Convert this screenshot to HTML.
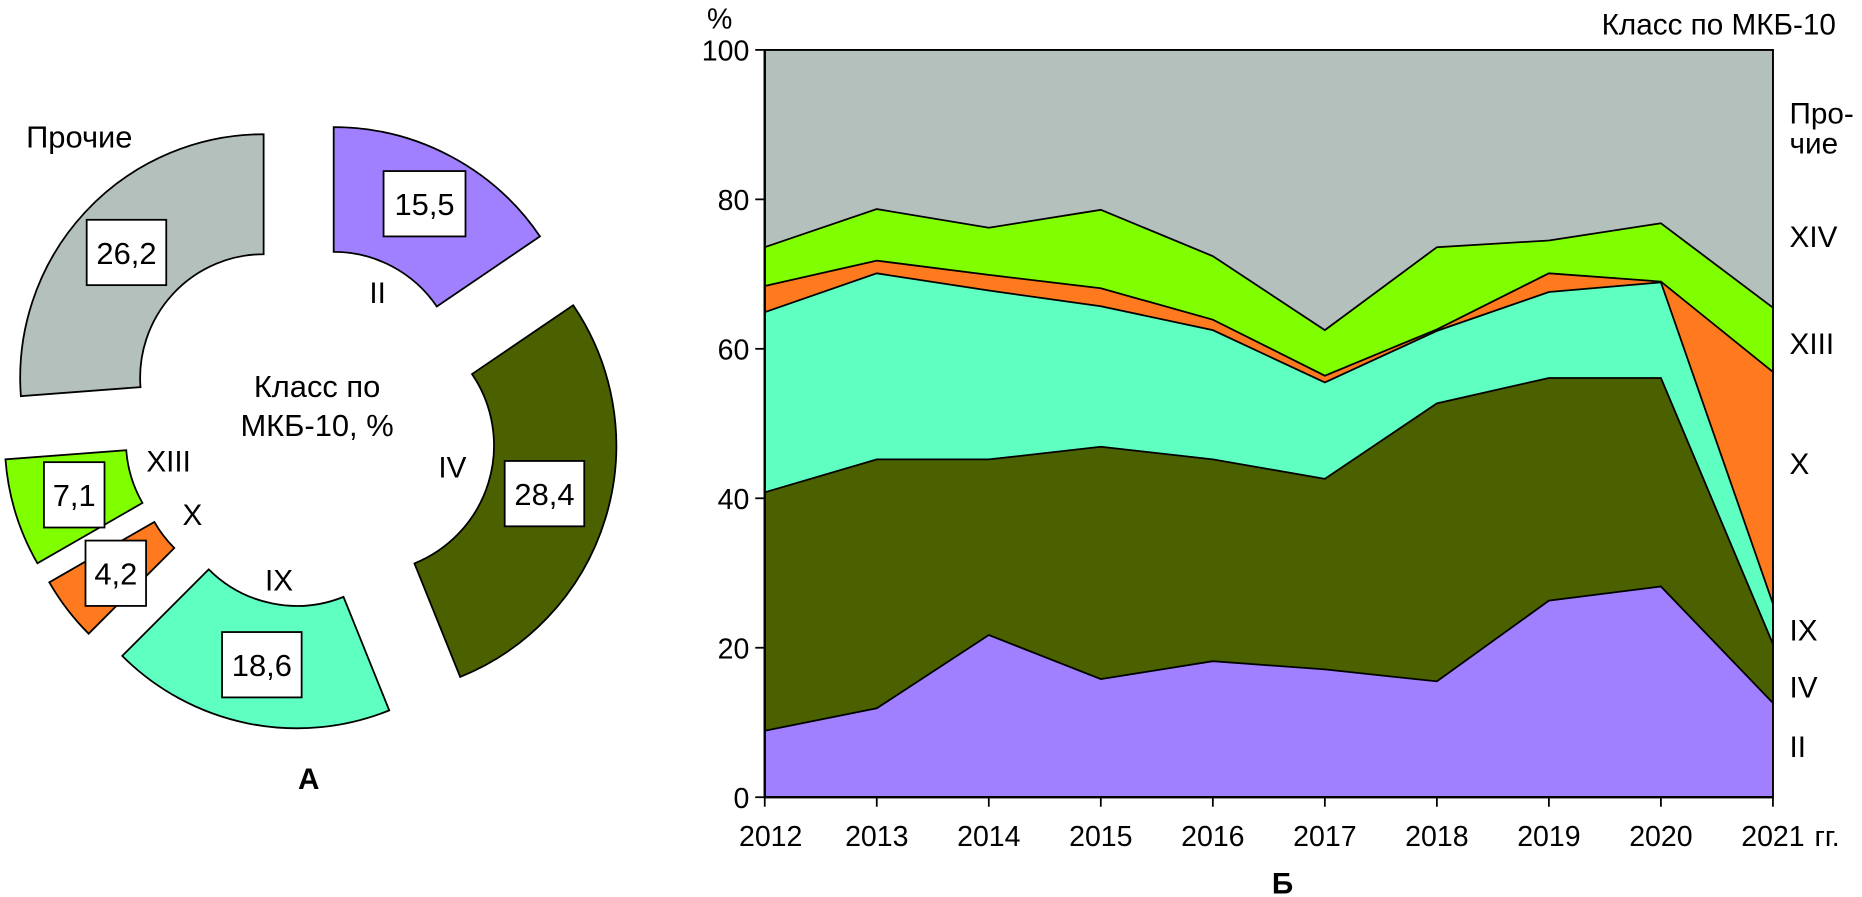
<!DOCTYPE html>
<html><head><meta charset="utf-8"><style>
html,body{margin:0;padding:0;background:#fff;}
svg{display:block;font-family:"Liberation Sans",sans-serif;}
</style></head><body>
<svg id="root" width="1862" height="897" viewBox="0 0 1568 755" preserveAspectRatio="none" xmlns="http://www.w3.org/2000/svg">
<g id="donut"></g>
<g id="area"></g>
</svg>
<script>
// ---- Donut data ----
const donutLabels = ["II","IV","IX","X","XIII","Прочие"];
const donutValues = [15.5,28.4,18.6,4.2,7.1,26.2];
// ---- Area chart data ----
const years = [2012,2013,2014,2015,2016,2017,2018,2019,2020,2021];
const seriesII   = [8.9,11.9,21.7,15.8,18.2,17.1,15.5,26.3,28.2,12.6];
const seriesIV   = [31.9,33.3,23.5,31.1,27.0,25.5,37.2,29.8,27.9,7.9];
const seriesIX   = [24.1,24.9,22.6,18.8,17.3,12.9,9.7,11.5,12.8,5.4];
const seriesX    = [3.5,1.7,2.1,2.4,1.4,0.9,0.2,2.5,0.1,31.0];
const seriesXIII = [5.2,6.9,6.3,10.5,8.5,6.1,11.0,4.4,7.8,8.6];
const yTicks = [0,20,40,60,80,100];

const NS="http://www.w3.org/2000/svg";
function mk(tag,attrs,parent){const e=document.createElementNS(NS,tag);for(const k in attrs)e.setAttribute(k,attrs[k]);parent.appendChild(e);return e;}
function txt(s,x,y,size,parent,anchor,weight){const t=mk('text',{x:x,y:y,'font-size':size,'text-anchor':anchor||'start','font-weight':weight||'normal',fill:'#000'},parent);t.textContent=s;return t;}

// ---- Donut ----
const dg=document.getElementById('donut');
const dColors=["#a080ff","#4b6100","#5effc0","#ff7a1e","#80ff00","#b4c0bc"];
const dCenters=[[281,317],[309,375],[250,405],[221,387],[211,371],[222,318]];
const dR=[210,210,208,207,207,205], dr=[105,107,105,105,105,104];
const dBoxes=[[323,144],[425,388],[187,532],[72,455],[37,389],[73,185]];
const dBoxW=[69,67,67,51,51,67];
const dLabelPos=[[318,255],[381,402],[235,497],[162,442],[142,397],[22,124]];
const dNames=["sector-ii","sector-iv","sector-ix","sector-x","sector-xiii","sector-other"];
let total=donutValues.reduce((a,b)=>a+b,0), cum=0;
function pt(c,r,a){return [c[0]+r*Math.sin(a),c[1]-r*Math.cos(a)];}
donutValues.forEach((v,i)=>{
  const a0=cum/total*2*Math.PI; cum+=v; const a1=cum/total*2*Math.PI;
  const c=dCenters[i],R=dR[i],r=dr[i];
  const p1=pt(c,R,a0),p2=pt(c,R,a1),p3=pt(c,r,a1),p4=pt(c,r,a0);
  const lg=(a1-a0)>Math.PI?1:0;
  const d=`M${p1[0]},${p1[1]} A${R},${R} 0 ${lg} 1 ${p2[0]},${p2[1]} L${p3[0]},${p3[1]} A${r},${r} 0 ${lg} 0 ${p4[0]},${p4[1]} Z`;
  const p=mk('path',{d:d,fill:dColors[i],stroke:'#000','stroke-width':1.5},dg);
  
  
  const b=dBoxes[i];
  const rc=mk('rect',{x:b[0],y:b[1],width:dBoxW[i],height:55,fill:'#fff',stroke:'#000','stroke-width':1.5},dg);
  
  
  const vt=txt(v.toFixed(1).replace('.',','),b[0]+dBoxW[i]/2,b[1]+37,26,dg,'middle');
  
  
  const lp=dLabelPos[i];
  const lt=txt(donutLabels[i],lp[0],lp[1],i==5?26:25,dg,i==5?'start':'middle');
  
  
});
txt("Класс по",267,334,26,dg,'middle');
txt("МКБ-10, %",267,367,26,dg,'middle');
const la=txt("А",260,664,25,dg,'middle','bold');



// ---- Area chart ----
const ag=document.getElementById('area');
const X0=644,X1=1493,Y0=671,Y100=42;
const xs=i=>X0+(X1-X0)*i/(years.length-1);
const ys=v=>Y0-(Y0-Y100)*v/100;
const series=[seriesII,seriesIV,seriesIX,seriesX,seriesXIII];
const aColors=["#a080ff","#4b6100","#5effc0","#ff7a1e","#80ff00"];
const aNames=["area-ii","area-iv","area-ix","area-x","area-xiii"];
const bg=mk('rect',{x:X0,y:Y100,width:X1-X0,height:Y0-Y100,fill:'#b4c0bc',stroke:'#000','stroke-width':1.5},ag);


const base=years.map(()=>0);
const tops=[];
series.forEach((s,k)=>{
  const lower=base.slice();
  s.forEach((v,i)=>base[i]+=v);
  const upper=base.slice();
  tops.push(upper);
  let d='M'+years.map((y,i)=>xs(i)+','+ys(upper[i])).join(' L');
  for(let i=years.length-1;i>=0;i--) d+=' L'+xs(i)+','+ys(lower[i]);
  d+=' Z';
  const p=mk('path',{d:d,fill:aColors[k],stroke:'none'},ag);
  
  
});
tops.forEach(u=>{
  const l=mk('polyline',{points:years.map((y,i)=>xs(i)+','+ys(u[i])).join(' '),fill:'none',stroke:'#000','stroke-width':1.5},ag);
  
  
});
mk('rect',{x:X0,y:Y100,width:X1-X0,height:Y0-Y100,fill:'none',stroke:'#000','stroke-width':1.5},ag);
const yAx=mk('line',{x1:X0,y1:Y100,x2:X0,y2:Y0,stroke:'#000','stroke-width':2},ag);


const xAx=mk('line',{x1:X0,y1:Y0,x2:X1,y2:Y0,stroke:'#000','stroke-width':2},ag);


yTicks.forEach(v=>{
  mk('line',{x1:X0-8,y1:ys(v),x2:X0,y2:ys(v),stroke:'#000','stroke-width':1.5},ag);
  const t=txt(String(v),X0-13,ys(v)+9,24,ag,'end');
  
  
});
years.forEach((y,i)=>{
  mk('line',{x1:xs(i),y1:Y0,x2:xs(i),y2:Y0+8,stroke:'#000','stroke-width':1.5},ag);
  const t=txt(String(y),xs(i)+(i==0?5:0),712,24,ag,'middle');
  
  
});
txt("гг.",1528,712,24,ag,'start');
const yt=txt("%",606,24,24,ag,'middle');


const lgT=txt("Класс по МКБ-10",1546,29,25,ag,'end');


const rl=[["Про-",104],["чие",129],["XIV",208],["XIII",298],["X",399],["IX",539],["IV",587],["II",637]];
rl.forEach(r=>{
  const t=txt(r[0],1507,r[1],25,ag,'start');
  
  
});
const lb=txt("Б",1080,752,25,ag,'middle','bold');


</script>
</body></html>
